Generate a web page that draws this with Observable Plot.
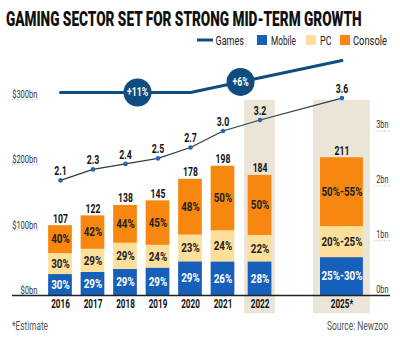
<!DOCTYPE html>
<html><head><meta charset="utf-8">
<script src="https://cdn.jsdelivr.net/npm/d3@7"></script>
<script src="https://cdn.jsdelivr.net/npm/@observablehq/plot@0.6"></script>
<style>
body{margin:0;background:#fff;width:400px;height:337px;overflow:hidden;}
svg{display:block}
</style>
</head><body>
<div id="head"></div>
<div id="chart"></div>
<div id="foot"></div>
<script>
// ---- data ----
const years = ["2016","2017","2018","2019","2020","2021","2022","2025*"];
const totals = [107,122,138,145,178,198,184,211];            // $bn revenue
const mobilePct = [30,29,29,29,29,26,28,27.5];
const pcPct     = [30,29,29,24,23,24,22,22.5];
const consolePct= [40,42,44,45,48,50,50,50];
const mobileLbl = ["30%","29%","29%","29%","29%","26%","28%","25%-30%"];
const pcLbl     = ["30%","29%","29%","24%","23%","24%","22%","20%-25%"];
const consoleLbl= ["40%","42%","44%","45%","48%","50%","50%","50%-55%"];
const players = [2.1,2.3,2.4,2.5,2.7,3.0,3.2,3.6];            // bn players
const gamesYears = ["2016","2020","2025*"];
const gamesLevel = [311,311,360];
const growthLabels = ["+11%","+6%"];
const leftTicks = [0,100,200,300];
const rightTicks = [0,1,2,3];
const highlighted = ["2022","2025*"];

// ---- layout ----
const FONT = 'Roboto,"Liberation Sans",sans-serif';
const slot = {"2016":0,"2017":1,"2018":2,"2019":3,"2020":4,"2021":5,"2022":6.14,"2025*":8.66};
const barW = y => y === "2025*" ? 1.32 : 0.73;
const boxW = y => y === "2025*" ? 1.75 : 0.95;
const ratio = 84;                   // right-axis unit in left-axis units
const growthAt = [2.37, 5.54];
const C = {mobile:"#1660bb", pc:"#fddf9c", console:"#f7870f", beige:"#ebe5d8", games:"#0f4c7f", players:"#2b3d4c", dots:"#2d62ad"};

// ---- derived tables ----
const segs = [];
years.forEach((y,i) => {
  const m = totals[i]*mobilePct[i]/100, p = totals[i]*pcPct[i]/100;
  segs.push({year:y, y1:0, y2:m, fill:C.mobile, label:mobileLbl[i], color:"#fff"});
  segs.push({year:y, y1:m, y2:m+p, fill:C.pc, label:pcLbl[i], color:"#222"});
  segs.push({year:y, y1:m+p, y2:totals[i], fill:C.console, label:consoleLbl[i], color:"#222"});
});
const bars = years.map((y,i) => ({year:y, total:totals[i], players:players[i]}));
const games = gamesYears.map((y,i) => ({x:slot[y], v:gamesLevel[i]}));
function gamesAt(x){ for(let i=1;i<games.length;i++){ if(x<=games[i].x){const a=games[i-1],b=games[i];return a.v+(b.v-a.v)*(x-a.x)/(b.x-a.x);} } return games[games.length-1].v; }
const badges = growthLabels.map((l,i) => ({label:l, x:growthAt[i], v:gamesAt(growthAt[i])}));
const px = p => (p-60)/32.5;   // pixel column to x units

// fit a text element into a given width by horizontal scaling
function fitTexts(root){
  root.querySelectorAll("text[data-w]").forEach(t => {
    const x = +t.getAttribute("x"), y = +t.getAttribute("y"), w = +t.getAttribute("data-w");
    const nat = t.getComputedTextLength();
    t.setAttribute("x", 0); t.setAttribute("y", 0);
    t.setAttribute("transform", `translate(${x},${y}) scale(${nat ? w/nat : 1},1)`);
  });
}

// ---- header ----
const NS = "http://www.w3.org/2000/svg";
const F = "Roboto,'Liberation Sans',sans-serif";
const head = document.getElementById("head");
head.innerHTML = `
<svg width="400" height="50" xmlns="${NS}" style="font-family:${F}">
  <text x="6" y="25.5" font-size="21" font-weight="900" fill="#111" data-w="356">GAMING SECTOR SET FOR STRONG MID-TERM GROWTH</text>
  <g font-size="12.5" fill="#222">
    <line x1="197" x2="213" y1="40" y2="40" stroke="${C.games}" stroke-width="3"/>
    <text x="215.5" y="44.5" data-w="28.5">Games</text>
    <rect x="257" y="35" width="10" height="10" fill="${C.mobile}"/>
    <text x="271" y="44.5" data-w="25">Mobile</text>
    <rect x="306" y="35" width="10" height="10" fill="${C.pc}"/>
    <text x="320" y="44.5" data-w="11.5">PC</text>
    <rect x="340" y="35" width="10" height="10" fill="${C.console}"/>
    <text x="353" y="44.5" data-w="34">Console</text>
  </g>
</svg>`;
fitTexts(head);

// ---- chart ----
const chart = Plot.plot({
  width: 400, height: 268,
  marginLeft: 60, marginRight: 15, marginTop: 10, marginBottom: 23,
  x: {type:"linear", domain:[0,10], axis:null},
  y: {domain:[0,360], axis:null},
  style: {fontFamily: FONT, background:"#fff"},
  marks: [
    Plot.rect(highlighted, {x1: d=>slot[d]-boxW(d)/2, x2: d=>slot[d]+boxW(d)/2, y1: -28, y2: 299, fill: C.beige}),
    Plot.rect(segs, {x1: d=>slot[d.year]-barW(d.year)/2, x2: d=>slot[d.year]+barW(d.year)/2, y1:"y1", y2:"y2", fill: d=>d.fill}),
    Plot.text(segs, {x: d=>slot[d.year], y: d=>(d.y1+d.y2)/2, text:"label", fill: d=>d.color, fontSize:12, fontWeight:"bold"}),
    Plot.text(bars, {x: d=>slot[d.year], y:"total", text: d=>String(d.total), lineAnchor:"bottom", dy:-3, fontSize:12.5, fontWeight:"bold", fill:"#111"}),
    Plot.line(bars, {x: d=>slot[d.year], y: d=>d.players*ratio, stroke:C.players, strokeWidth:1.2}),
    Plot.dot(bars, {x: d=>slot[d.year], y: d=>d.players*ratio, r:2.3, fill:C.dots}),
    Plot.text(bars, {x: d=>slot[d.year], y: d=>d.players*ratio, text: d=>d.players.toFixed(1), lineAnchor:"bottom", dy:-5, fontSize:12.5, fontWeight:"bold", fill:"#111"}),
    Plot.line(games, {x:"x", y:"v", stroke:C.games, strokeWidth:3}),
    Plot.dot(badges, {x:"x", y:"v", r:14, fill:C.games}),
    Plot.text(badges, {x:"x", y:"v", text:"label", fill:"#fff", fontSize:12.5, fontWeight:"bold"}),
    Plot.ruleY(leftTicks, {x1:px(12), x2:px(38), stroke:"#bbb", strokeDasharray:"1,1.5"}),
    Plot.text(leftTicks, {x:px(37), y:d=>d, text:d=>`$${d}bn`, textAnchor:"end", dy:-5, fontSize:10.5, fill:"#333"}),
    Plot.ruleY(rightTicks, {x1:px(374), x2:px(390), y:d=>d*ratio, stroke:"#bbb", strokeDasharray:"1,1.5"}),
    Plot.text(rightTicks, {x:px(388), y:d=>d*ratio, text:d=>`${d}bn`, textAnchor:"end", dy:-6, fontSize:10.5, fill:"#333"}),
    Plot.ruleY([0], {x1:px(12), x2:px(390), stroke:"#222", strokeWidth:1.3}),
    Plot.text(years, {x:d=>slot[d], y:0, text:d=>d, dy:8.5, fontSize:12.5, fontWeight:"bold", fill:"#111"})
  ]
});
// condense the text horizontally (the reference uses a condensed typeface)
const squeeze = [0.82, 0.69, 0.70, 0.70, 0.72, 0.70, 0.65];
chart.querySelectorAll('g[aria-label="text"]').forEach((g,gi) => {
  const s = squeeze[gi] ?? 0.72;
  g.querySelectorAll("text").forEach(t => {
    const tr = t.getAttribute("transform");
    if (tr) t.setAttribute("transform", tr + ` scale(${s},1)`);
  });
});
document.getElementById("chart").appendChild(chart);

// ---- footer ----
const foot = document.getElementById("foot");
foot.innerHTML = `
<svg width="400" height="19" xmlns="${NS}" style="font-family:${F}" font-size="12" fill="#555">
  <text x="12" y="11.5" data-w="36">*Estimate</text>
  <text x="327" y="11.5" data-w="61">Source: Newzoo</text>
</svg>`;
fitTexts(foot);
</script>
</body></html>
